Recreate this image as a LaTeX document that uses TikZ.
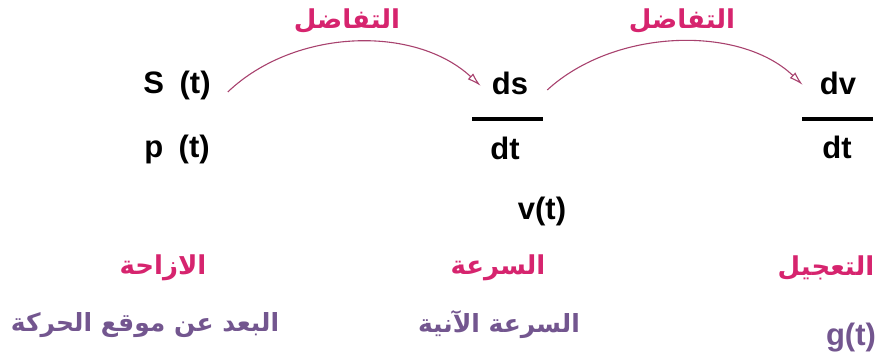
\documentclass[tikz,border=0pt]{standalone}
\usepackage{fontspec}
\setmainfont{Liberation Sans}
\newfontfamily\arabicfont[Script=Arabic]{DejaVu Sans}
\TeXXeTstate=1
\usetikzlibrary{arrows.meta}
\definecolor{labpink}{HTML}{D6246E}
\definecolor{arcpink}{HTML}{A8426E}
\definecolor{descpurple}{HTML}{73568F}
\tikzset{
  mathtxt/.style={anchor=base, inner sep=0pt, font=\fontsize{31}{34}\selectfont\bfseries, text=black},
  pinklab/.style={inner sep=0pt, font=\arabicfont\fontsize{26}{30}\selectfont\bfseries, text=labpink},
  desc/.style={inner sep=0pt, font=\arabicfont\fontsize{25}{30}\selectfont\bfseries, text=descpurple},
  fracbar/.style={line width=3.5pt, black},
  diffarrow/.style={arcpink, line width=1.1pt, -{Latex[open, length=14pt, width=8pt]}}
}
\begin{document}
\begin{tikzpicture}[x=1pt, y=-1pt]
\useasboundingbox (0,0) rectangle (881,361);
% top row
\node[mathtxt] (S) at (177,93) {S\hspace{0.5em}(t)};
\node[mathtxt] (p) at (177,157) {p\hspace{0.5em}(t)};
\node[mathtxt] (ds) at (510,95) {ds};
\coordinate (bar1l) at (472,119);
\coordinate (bar1r) at (543,119);
\draw[fracbar] (bar1l) -- (bar1r);
\node[mathtxt] (dt1) at (505,159) {dt};
\node[mathtxt] (dv) at (838,95) {dv};
\coordinate (bar2l) at (802,119);
\coordinate (bar2r) at (873,119);
\draw[fracbar] (bar2l) -- (bar2r);
\node[mathtxt] (dt2) at (837,158) {dt};
\node[mathtxt] (v) at (542,219) {v(t)};
% arrows
\draw[diffarrow] ([xshift=17pt,yshift=-7pt]S.east) .. controls (295,28) and (415,25) .. ([xshift=-11pt,yshift=-2pt]ds.west);
\draw[diffarrow] ([xshift=19pt,yshift=-6pt]ds.east) .. controls (615,28) and (740,25) .. ([xshift=-17pt,yshift=-1pt]dv.west);
\node[pinklab] (diff1) at (347,21) {\beginR التفاضل\endR};
\node[pinklab] (diff2) at (682,21) {\beginR التفاضل\endR};
% bottom rows
\node[pinklab] (disp) at (163,268) {\beginR الازاحة\endR};
\node[pinklab] (vel) at (498,268) {\beginR السرعة\endR};
\node[pinklab] (acc) at (826,268) {\beginR التعجيل\endR};
\node[desc] (dist) at (145,325) {\beginR البعد عن موقع الحركة\endR};
\node[desc] (inst) at (499,325) {\beginR السرعة الآنية\endR};
\node[anchor=base, inner sep=0pt, font=\fontsize{31}{34}\selectfont\bfseries, text=descpurple] (g) at (851,345) {g(t)};
\end{tikzpicture}
\end{document}
